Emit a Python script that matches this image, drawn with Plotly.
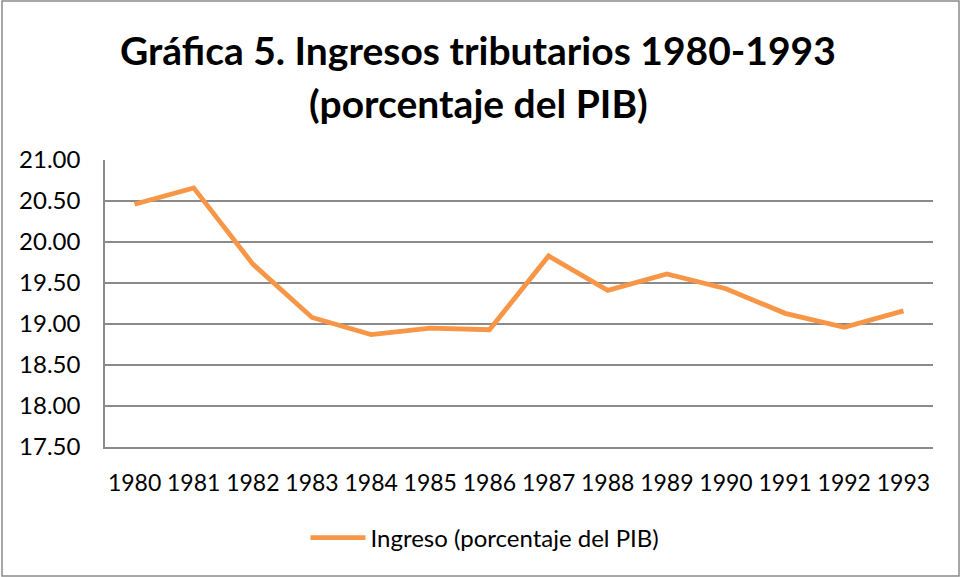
import plotly.graph_objects as go

years = ["1980", "1981", "1982", "1983", "1984", "1985", "1986",
         "1987", "1988", "1989", "1990", "1991", "1992", "1993"]
ingreso = [20.46, 20.66, 19.73, 19.08, 18.87, 18.95, 18.93,
           19.83, 19.41, 19.61, 19.43, 19.13, 18.96, 19.16]
series_name = "Ingreso (porcentaje del PIB)"
title_lines = ["Gráfica 5. Ingresos tributarios 1980-1993", "(porcentaje del PIB)"]

W, H = 961, 577
L, R, T, B = 105, 28, 160, 130
pw, ph = W - L - R, H - T - B

fig = go.Figure()
fig.add_trace(go.Scatter(
    x=years, y=ingreso, mode="lines", name=series_name,
    line=dict(color="#F79646", width=4.8),
))

font_family = "Lato, Carlito, 'Open Sans', sans-serif"

fig.update_layout(
    width=W, height=H,
    margin=dict(l=L, r=R, t=T, b=B),
    paper_bgcolor="white", plot_bgcolor="white",
    font=dict(family=font_family, color="#000000", size=23),
    showlegend=True,
    legend=dict(orientation="h", x=(485 - L) / pw, xanchor="center",
                y=(H - B - 538) / ph, yanchor="middle",
                font=dict(size=24), itemwidth=55),
    xaxis=dict(type="category", range=[-0.5, 13.5], showgrid=False,
               showline=True, linecolor="#8A8A8A", linewidth=1.5,
               ticks="", tickfont=dict(size=23),
               ticklabelstandoff=15,
               zeroline=False, fixedrange=True),
    yaxis=dict(range=[17.5, 21.0], dtick=0.5, tick0=17.5, tickformat=".2f",
               showgrid=True, gridcolor="#8A8A8A", gridwidth=1.5,
               showline=True, linecolor="#8A8A8A", linewidth=1.5,
               ticks="", ticklen=0, zeroline=False, tickfont=dict(size=24),
               ticklabelstandoff=18,
               fixedrange=True),
)

fig.add_annotation(text="<b>" + title_lines[0] + "</b>", xref="paper", yref="paper",
                   x=(478 - L) / pw, y=(H - B - 50) / ph, showarrow=False,
                   xanchor="center", yanchor="middle",
                   font=dict(size=39, family=font_family, color="#000000"))
fig.add_annotation(text="<b>" + title_lines[1] + "</b>", xref="paper", yref="paper",
                   x=(478 - L) / pw, y=(H - B - 103) / ph, showarrow=False,
                   xanchor="center", yanchor="middle",
                   font=dict(size=39, family=font_family, color="#000000"))

# outer chart border
fig.add_shape(type="rect", xref="paper", yref="paper",
              x0=(2 - L) / pw, x1=(W - 2 - L) / pw,
              y0=(H - B - (H - 1)) / ph, y1=(H - B - 1) / ph,
              line=dict(color="#8A8A8A", width=1.5), fillcolor="rgba(0,0,0,0)")

fig.write_html("out.html", config={"displayModeBar": False},
               post_script="document.body.style.margin='0';document.body.style.overflow='hidden';")
